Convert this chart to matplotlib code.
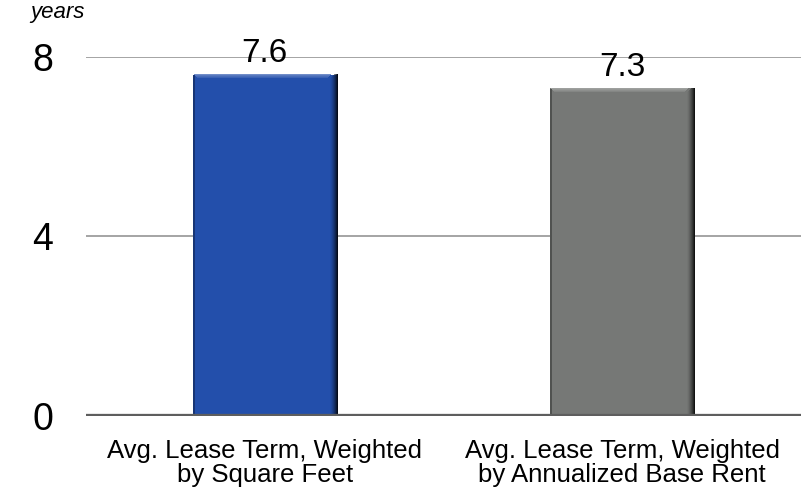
import numpy as np
import matplotlib
matplotlib.use("Agg")
import matplotlib.pyplot as plt
from matplotlib.colors import to_rgb

plt.rcParams['font.family'] = ['Liberation Sans', 'DejaVu Sans']

categories = ["Avg. Lease Term, Weighted\nby Square Feet",
              "Avg. Lease Term, Weighted\nby Annualized Base Rent"]
values = [7.6, 7.3]
value_labels = ["7.6", "7.3"]
bar_colors = ["#234fab", "#767876"]
y_ticks = [0, 4, 8]


def bevel_overlay(ax, patch, color):
    """Lay a small shaded image over a bar to give it raised edges."""
    fig = ax.figure
    fig.canvas.draw()
    x0, y0 = patch.get_x(), patch.get_y()
    x1, y1 = x0 + patch.get_width(), y0 + patch.get_height()
    (px0, py0), (px1, py1) = ax.transData.transform([(x0, y0), (x1, y1)])
    nx, ny = int(round(px1 - px0)), int(round(py1 - py0))
    base = np.array(to_rgb(color))
    light = base + (1 - base) * 0.32
    dark = base * 0.15

    img = np.zeros((ny, nx, 4))

    # light strip along the top with mitred corners
    top_w = 4
    for r in range(min(top_w, ny)):
        a = 0.95 - 0.2 * r
        c_lo, c_hi = r + 1, nx - r - 7
        img[r, c_lo:c_hi, :3] = light
        img[r, c_lo:c_hi, 3] = a

    # dark gradient along the right side
    side_w = 8
    for i in range(side_w):
        c = nx - side_w + i
        a = ((i + 1) / side_w) ** 1.6
        start = max(0, side_w - i - 4)
        img[start:, c, :3] = dark
        img[start:, c, 3] = a

    # faint darker line on the left side
    img[1:, 0:2, :3] = base * 0.55
    img[1:, 0:2, 3] = 0.7

    ax.imshow(img, extent=(x0, x1, y0, y1), origin="upper",
              aspect="auto", interpolation="nearest", zorder=3)


fig = plt.figure(figsize=(8.01, 4.94), dpi=100)
ax = fig.add_axes([0.1074, 0.158, 0.8926, 0.727])

x = np.arange(len(categories))
bars = ax.bar(x, values, width=0.403, color=bar_colors, zorder=2)

ax.set_xlim(-0.5, 1.5)
ax.set_ylim(0, 8)
ax.set_yticks(y_ticks)
ax.set_yticklabels([str(t) for t in y_ticks], fontsize=27, ha="center")
ax.set_xticks(x)
ax.set_xticklabels(categories, fontsize=18.5, linespacing=1.0)
ax.tick_params(axis="y", length=0, pad=31)
ax.tick_params(axis="x", length=0, pad=16.5)

for s in ax.spines.values():
    s.set_visible(False)

for t in y_ticks[1:]:
    ax.axhline(t, color="#8c8c8c", lw=1.1, zorder=1)
ax.axhline(0, color="#5e5e5e", lw=3.8, zorder=4)

for b, lab in zip(bars, value_labels):
    ax.annotate(lab, (b.get_x() + b.get_width() / 2, b.get_height()),
                xytext=(0, 4), textcoords="offset points",
                ha="center", va="bottom", fontsize=24)

for b, c in zip(bars, bar_colors):
    bevel_overlay(ax, b, c)
ax.set_xlim(-0.5, 1.5)
ax.set_ylim(0, 8)

fig.text(0.072, 0.995, "years", fontsize=16, style="italic",
         ha="center", va="top")

fig.savefig("out.png", dpi=100)
